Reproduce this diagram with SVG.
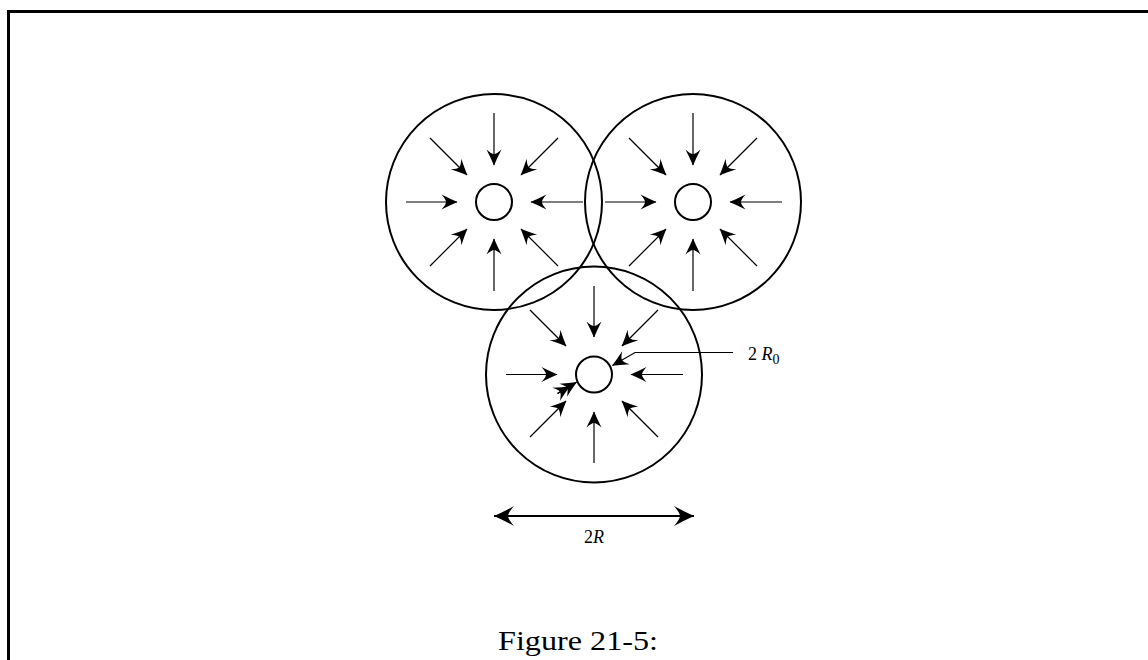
<svg xmlns="http://www.w3.org/2000/svg" width="1148" height="660" viewBox="0 0 1148 660">
<defs>
<style>
.big{fill:none;stroke:#000;stroke-width:2}
.src{fill:none;stroke:#000;stroke-width:2}
.ar{fill:none;stroke:#000;stroke-width:1.2;marker-end:url(#ah)}
.lbl{font-family:'Liberation Serif','Times New Roman',Times,serif;font-size:18px;fill:#000}
.cap{font-family:'Liberation Serif','Times New Roman',Times,serif;font-size:28px;fill:#000}
</style>
<marker id="ah" viewBox="-17 -9 18 18" refX="0" refY="0" markerWidth="18" markerHeight="18" markerUnits="userSpaceOnUse" orient="auto">
<path d="M0.5,0 Q-7,-3.2 -15.5,-7.5 Q-11,-2.5 -11,0 Q-11,2.5 -15.5,7.5 Q-7,3.2 0.5,0 Z" fill="#000"/>
</marker>
<marker id="ahb" viewBox="-22 -11 23 22" refX="0" refY="0" markerWidth="23" markerHeight="22" markerUnits="userSpaceOnUse" orient="auto-start-reverse">
<path d="M0,0 Q-9,-4 -20,-10 Q-14,-3 -14,0 Q-14,3 -20,10 Q-9,4 0,0 Z" fill="#000"/>
</marker>
</defs>
<rect width="1148" height="660" fill="#fff"/>
<path d="M8.5,660 V11.5 H1148" fill="none" stroke="#000" stroke-width="3"/>

<g id="source-left">
<circle class="big" cx="494" cy="202" r="108"/>
<circle class="src" cx="494" cy="202" r="18"/>
<path class="ar" d="M494,113 V165"/>
<path class="ar" d="M494,291 V239"/>
<path class="ar" d="M406,202 H457"/>
<path class="ar" d="M583,202 H531"/>
<path class="ar" d="M430,138 L467,175"/>
<path class="ar" d="M558,138 L521,175"/>
<path class="ar" d="M430,266 L467,229"/>
<path class="ar" d="M558,266 L521,229"/>
</g>

<g id="source-right">
<circle class="big" cx="693" cy="202" r="108"/>
<circle class="src" cx="693" cy="202" r="18"/>
<path class="ar" d="M693,113 V165"/>
<path class="ar" d="M693,291 V239"/>
<path class="ar" d="M605,202 H656"/>
<path class="ar" d="M782,202 H730"/>
<path class="ar" d="M629,138 L666,175"/>
<path class="ar" d="M757,138 L720,175"/>
<path class="ar" d="M629,266 L666,229"/>
<path class="ar" d="M757,266 L720,229"/>
</g>

<g id="source-bottom">
<circle class="big" cx="594" cy="374.5" r="108"/>
<circle class="src" cx="594" cy="374.5" r="18"/>
<path class="ar" d="M594,286 V337"/>
<path class="ar" d="M594,463 V412"/>
<path class="ar" d="M506,374.5 H557"/>
<path class="ar" d="M683,374.5 H631"/>
<path class="ar" d="M530,310 L566,346"/>
<path class="ar" d="M658,310 L622,346"/>
<path class="ar" d="M530,437 L566,401"/>
<path class="ar" d="M658,437 L622,401"/>
<path class="ar" d="M557.5,393.5 L576.5,382.3"/>
<path class="ar" d="M557.5,393.5 L569.5,386.4"/>
</g>

<g id="connectors">
<path class="ar" d="M733,352.5 H635 L612.5,365.5" stroke-width="1.6"/>
<path d="M494,516 H694" fill="none" stroke="#000" stroke-width="2" marker-start="url(#ahb)" marker-end="url(#ahb)"/>
</g>

<g id="label-r0">
<text class="lbl" font-family="'Liberation Serif', serif" x="748" y="360">2 <tspan font-style="italic">R</tspan><tspan font-size="14" dy="4">0</tspan></text>
</g>
<g id="label-2r">
<text class="lbl" font-family="'Liberation Serif', serif" x="594" y="543" text-anchor="middle">2<tspan font-style="italic">R</tspan></text>
</g>
<g id="caption">
<text class="cap" font-family="'Liberation Serif', serif" x="498" y="650" textLength="160" lengthAdjust="spacingAndGlyphs">Figure 21-5:</text>
</g>
</svg>
